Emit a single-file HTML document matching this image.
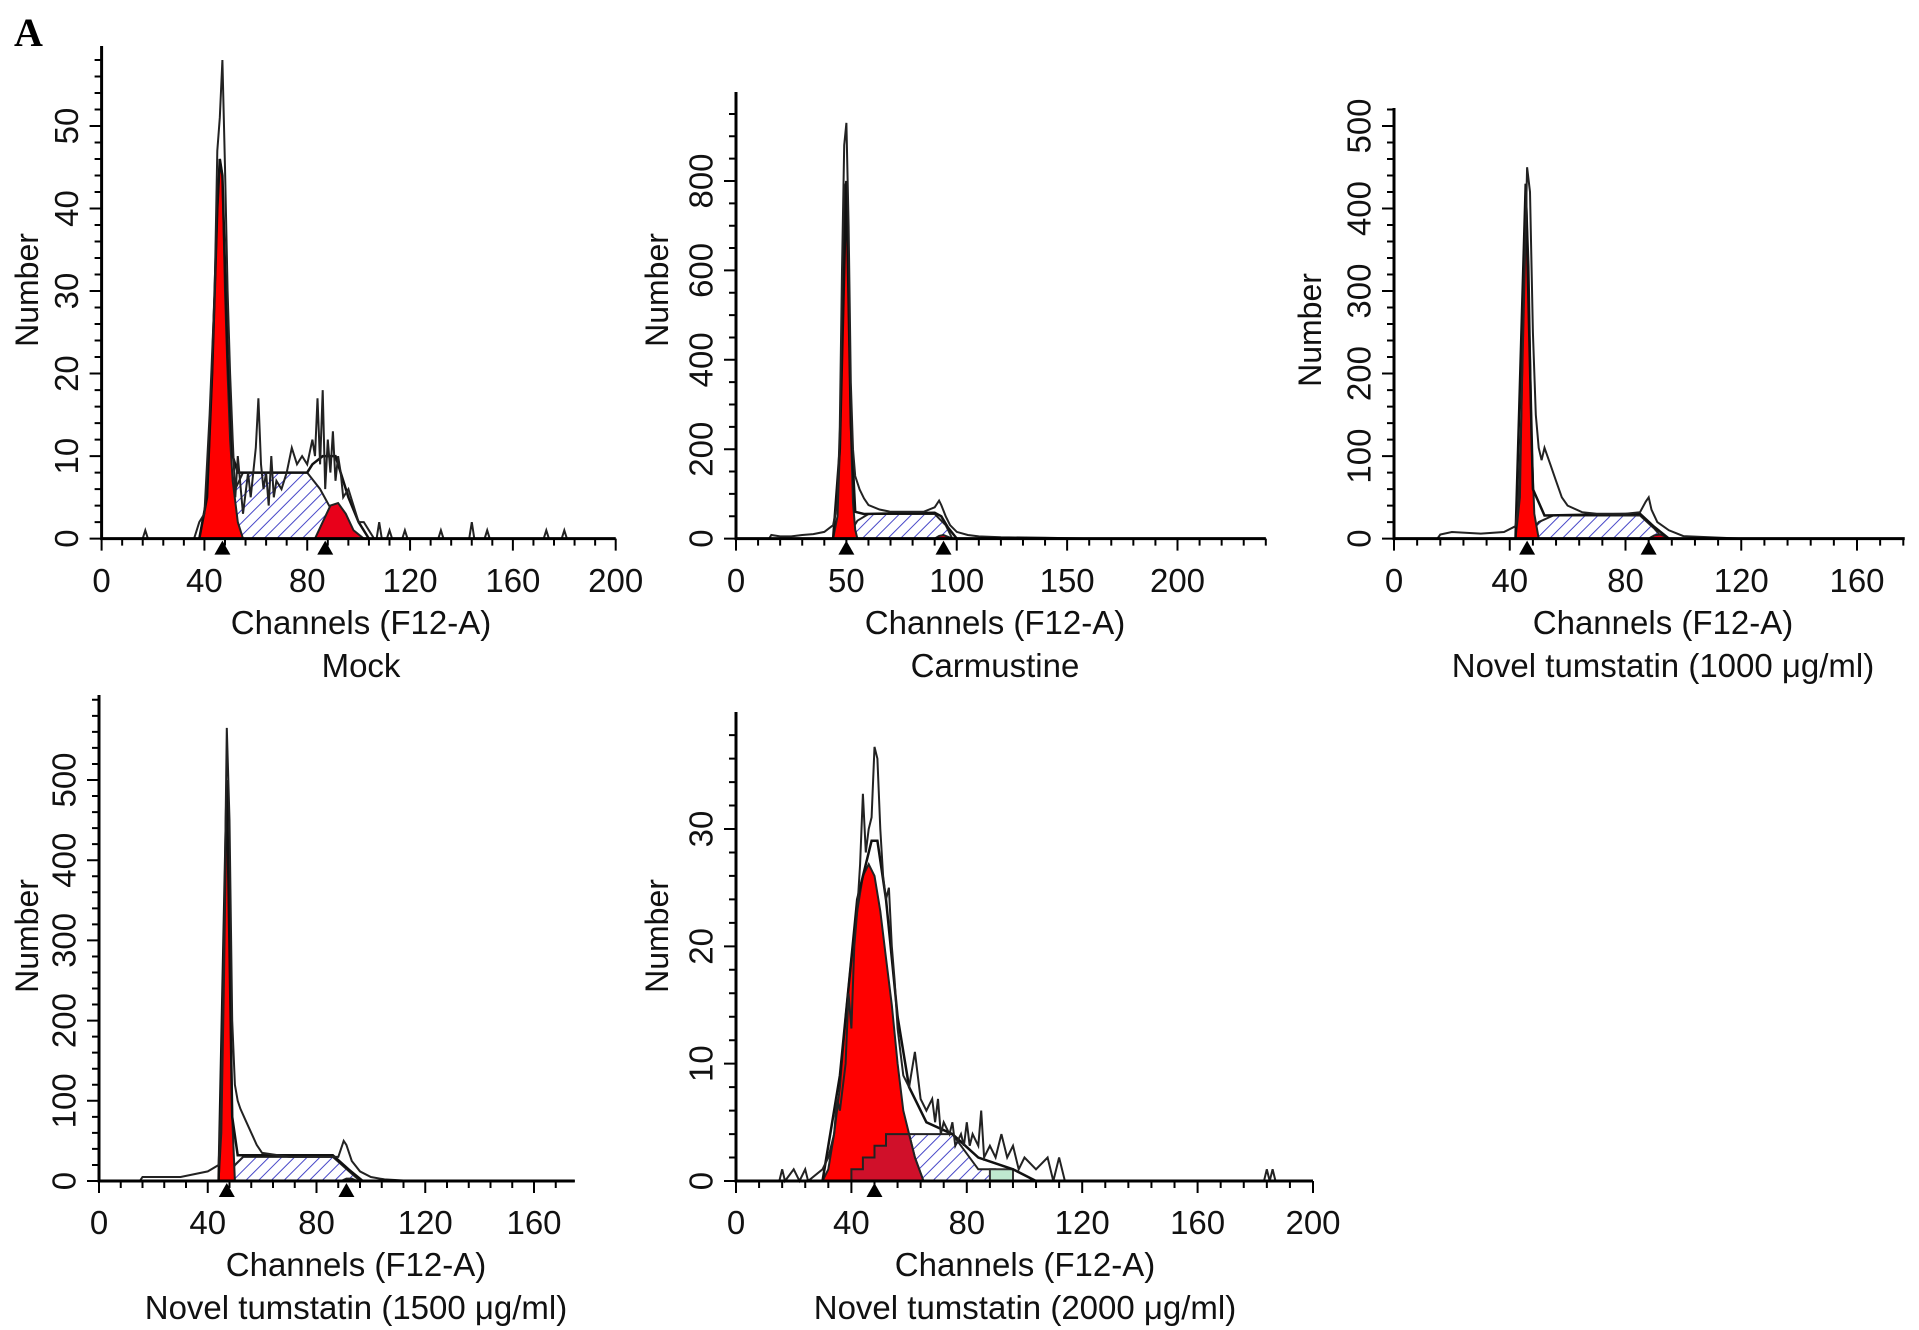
<!DOCTYPE html>
<html><head><meta charset="utf-8">
<style>
html,body{margin:0;padding:0;background:#fff;}
svg{display:block;font-family:"Liberation Sans",sans-serif;}
</style></head>
<body>
<svg id="fig" width="1919" height="1330" viewBox="0 0 1919 1330">
<defs>
<pattern id="hatch" patternUnits="userSpaceOnUse" width="9" height="9" patternTransform="rotate(45)">
<rect width="9" height="9" fill="#fff"/>
<line x1="0" y1="0" x2="0" y2="9" stroke="#4848c8" stroke-width="2"/>
</pattern>
</defs>
<text x="14" y="46" font-family="Liberation Serif,serif" font-weight="bold" font-size="40">A</text>
</svg>
<script>
// ===== Data (channel, count) =====
const p1Raw=[[0,0],[16,0],[17,1],[18,0],[36,0],[38,2],[40,3],[42,15],[44,30],[45,47],[46,51],[47,58],[48,45],[49,30],[50,20],[51,12],[52,5],[53,10],[55,3],[57,8],[58,5],[60,11],[61,17],[62,9],[63,6],[64,8],[65,4],[66,10],[67,5],[68,7],[70,6],[72,8],[74,11],[76,9],[78,10],[80,9],[82,12],[83,10],[84,17],[85,9],[86,18],[87,6],[88,12],[89,8],[90,13],[91,7],[92,10],[93,8],[94,5],[96,6],[98,4],[100,2],[102,2],[104,1],[106,0],[107,0],[108,2],[109,0],[111,0],[112,1],[113,0],[117,0],[118,1],[119,0],[131,0],[132,1],[133,0],[143,0],[144,2],[145,0],[149,0],[150,1],[151,0],[172,0],[173,1],[174,0],[179,0],[180,1],[181,0],[200,0]];
const p1G1=[[38,0],[41,5],[43,20],[45,40],[46,46],[47,44],[48,30],[49,20],[50,12],[51,7],[53,2],[55,0]];
const p1S=[[50,0],[52,6],[55,8],[80,8],[85,6],[92,2],[95,0]];
const p1G2=[[83,0],[86,2],[89,4],[92,4.3],[95,3],[98,1],[102,0]];
const p1Fit=[[38,0],[41,5],[43,20],[45,40],[46,46],[47,44],[49,22],[51,10],[53,8],[55,8],[80,8],[82,9],[86,10],[91,10],[96,5],[100,2],[104,0]];
const p1Marks=[47,87];

const p2Raw=[[0,0],[15,0],[16,8],[20,5],[25,5],[30,8],[35,10],[40,15],[44,30],[46,80],[47,250],[48,600],[49,880],[50,930],[51,700],[52,350],[53,200],[54,140],[56,110],[58,90],[60,75],[65,65],[70,60],[75,60],[80,60],[85,60],[90,70],[92,85],[93,75],[95,50],[97,30],[100,15],[105,8],[110,5],[120,3],[140,2],[160,0],[240,0]];
const p2G1=[[44,0],[46,50],[47,200],[48,500],[49,780],[50,800],[51,550],[52,250],[53,80],[54,20],[55,0]];
const p2S=[[50,0],[55,40],[60,55],[90,55],[95,30],[98,0]];
const p2G2=[[90,0],[92,6],[94,8],[96,4],[98,0]];
const p2Fit=[[44,0],[47,200],[50,800],[52,260],[54,60],[58,55],[90,58],[93,50],[96,25],[100,0]];
const p2Marks=[50,94];

const p3Raw=[[0,0],[15,0],[16,5],[20,8],[30,6],[38,8],[42,15],[43,40],[44,150],[45,300],[46,450],[47,420],[48,250],[49,150],[50,110],[51,95],[52,110],[54,90],[56,70],[58,50],[60,40],[65,32],[70,30],[80,30],[85,32],[87,45],[88,50],[89,35],[91,20],[95,10],[100,3],[120,0],[176,0]];
const p3G1=[[42,0],[43.5,50],[44.5,250],[45.5,430],[46.5,330],[47.5,120],[48.5,30],[50,0]];
const p3S=[[46,0],[50,20],[55,28],[85,28],[90,12],[93,0]];
const p3G2=[[88,0],[90,4],[92,5],[94,2],[95,0]];
const p3Fit=[[42,0],[45.5,430],[48,60],[52,28],[85,30],[90,14],[95,0]];
const p3Marks=[46,88];

const p4Raw=[[0,0],[15,0],[16,5],[30,5],[40,12],[44,20],[45,100],[46,300],[47,565],[48,450],[49,200],[50,120],[51,100],[52,90],[54,75],[56,60],[58,45],[60,35],[70,30],[80,30],[88,30],[90,50],[91,45],[93,25],[96,12],[100,5],[105,2],[115,0],[175,0]];
const p4G1=[[44,0],[45,60],[46,260],[47,500],[48,300],[49,80],[50,0]];
const p4S=[[47,0],[50,20],[53,30],[86,30],[92,12],[96,0]];
const p4G2=[[89,0],[91,3],[93,3],[95,0]];
const p4Fit=[[44,0],[47,500],[49,80],[51,32],[86,32],[92,14],[97,0]];
const p4Marks=[47,91];

const p5Raw=[[0,0],[15,0],[16,1],[17,0],[20,1],[22,0],[24,1],[25,0],[30,1],[32,2],[34,4],[35,7],[36,6],[38,10],[39,16],[40,13],[41,20],[42,23],[43,27],[44,33],[45,28],[46,30],[47,31],[48,37],[49,36],[50,30],[51,26],[52,24],[53,25],[54,20],[55,17],[56,13],[57,11],[58,9],[60,8],[62,11],[64,7],[66,6],[68,7],[69,5],[70,7],[71,4],[72,5],[74,4],[75,5],[76,3],[78,4],[79,3],[80,5],[81,3],[82,4],[84,3],[85,6],[86,2],[88,3],[90,2],[92,4],[94,2],[96,3],[98,1],[100,2],[104,1],[108,2],[110,0],[112,2],[114,0],[183,0],[184,1],[185,0],[186,1],[187,0],[200,0]];
const p5G1=[[30,0],[32,1],[34,4],[36,8],[38,14],[40,19],[42,23],[44,26],[46,27],[48,26],[50,23],[52,19],[54,15],[56,10],[58,6],[60,4],[62,2],[65,0]];
const p5G1b=[[40,0],[40,1],[44,1],[44,2],[48,2],[48,3],[52,3],[52,4],[60,4],[62,2],[65,0]];
const p5S=[[60,0],[60,4],[75,4],[78,3],[84,1],[90,1],[92,0]];
const p5G2=[[88,0],[88,1],[96,1],[96,0]];
const p5Fit=[[30,0],[36,9],[42,24],[47,29],[49,29],[52,24],[56,14],[60,8],[66,5],[75,4],[84,2],[96,1],[104,0]];
const p5Marks=[48];

// ===== Layout =====
const panels=[
 {id:'mock',raw:p1Raw,g1:p1G1,s:p1S,g2:p1G2,fit:p1Fit,marks:p1Marks,x0:101.6,x1:615.7,xmax:200,y0:538.6,yv:126,yvv:50,yTop:46,xT:[0,40,80,120,160,200],xm:8,yT:[0,10,20,30,40,50],ym:2,cx:361,title:'Mock',ylx:27,yly:290,lbY:580,chY:622,tY:665},
 {id:'carmustine',raw:p2Raw,g1:p2G1,s:p2S,g2:p2G2,fit:p2Fit,marks:p2Marks,x0:736,x1:1177.5,xmax:240,y0:538.6,yv:181,yvv:800,yTop:92,xT:[0,50,100,150,200],xm:10,yT:[0,200,400,600,800],ym:50,cx:995,title:'Carmustine',ylx:657,yly:290,lbY:580,chY:622,tY:665,xspan:200},
 {id:'tumstatin-1000',raw:p3Raw,g1:p3G1,s:p3S,g2:p3G2,fit:p3Fit,marks:p3Marks,x0:1394,x1:1857,xmax:176.5,y0:538.6,yv:126,yvv:500,yTop:108,xT:[0,40,80,120,160],xm:8,yT:[0,100,200,300,400,500],ym:20,cx:1663,title:'Novel tumstatin (1000 \u03bcg/ml)',ylx:1310,yly:330,lbY:580,chY:622,tY:665,xspan:160},
 {id:'tumstatin-1500',raw:p4Raw,g1:p4G1,s:p4S,g2:p4G2,fit:p4Fit,marks:p4Marks,x0:99,x1:534,xmax:175,y0:1181,yv:780,yvv:500,yTop:695,xT:[0,40,80,120,160],xm:8,yT:[0,100,200,300,400,500],ym:20,cx:356,title:'Novel tumstatin (1500 \u03bcg/ml)',ylx:27,yly:936,lbY:1222,chY:1264,tY:1307,xspan:160},
 {id:'tumstatin-2000',raw:p5Raw,g1:p5G1,g1b:p5G1b,s:p5S,g2:p5G2,fit:p5Fit,marks:p5Marks,x0:736,x1:1313,xmax:200,y0:1181,yv:829,yvv:30,yTop:712,xT:[0,40,80,120,160,200],xm:8,yT:[0,10,20,30],ym:2,cx:1025,title:'Novel tumstatin (2000 \u03bcg/ml)',ylx:657,yly:936,lbY:1222,chY:1264,tY:1307,green:true}
];
const NS='http://www.w3.org/2000/svg';
const svg=document.getElementById('fig');
function mk(tag,attrs,parent){const e=document.createElementNS(NS,tag);for(const k in attrs)e.setAttribute(k,attrs[k]);parent.appendChild(e);return e;}
panels.forEach(p=>{
 const span=p.xspan||p.xT[p.xT.length-1];
 const sx=v=>p.x0+(v)*(p.x1-p.x0)/span;
 const sy=v=>p.y0-v*(p.y0-p.yv)/p.yvv;
 const g=mk('g',{},svg);
 
 
 const pts=a=>a.map(d=>sx(d[0]).toFixed(1)+','+sy(d[1]).toFixed(1)).join(' ');
 const poly=(a,fill,name,stroke)=>{const e=mk('polygon',{points:pts(a),fill:fill,stroke:stroke||'#222','stroke-width':2},g);
  
  };
 poly(p.s,'url(#hatch)','s-phase-area');
 if(p.green){poly(p.g2,'#bfe8cf','g2-area','#333');}
 else poly(p.g2,'#e8001a','g2-area');
 poly(p.g1,'#ff0000','g1-area');
 if(p.g1b) poly(p.g1b,'#d0102a','g1-overlap-area');
 const fit=mk('polyline',{points:pts(p.fit),fill:'none',stroke:'#111','stroke-width':2.5},g);
 
 
 const raw=mk('polyline',{points:pts(p.raw),fill:'none',stroke:'#222','stroke-width':2},g);
 
 
 const ax=mk('path',{d:`M${p.x0},${p.yTop}V${p.y0}H${sx(p.xmax)}`,stroke:'#000','stroke-width':3,fill:'none'},g);
 
 
 let d='';
 for(let v=0;v<=p.xmax+0.01;v+=p.xm){const major=p.xT.includes(v);d+=`M${sx(v)},${p.y0}v${major?12:7}`;}
 const ymax=(p.y0-p.yTop)/((p.y0-p.yv)/p.yvv);
 for(let v=0;v<=ymax;v+=p.ym){const major=p.yT.includes(v);d+=`M${p.x0},${sy(v)}h${major?-12:-7}`;}
 const tk=mk('path',{d:d,stroke:'#000','stroke-width':2,fill:'none'},g);
 
 
 p.xT.forEach(v=>{const t=mk('text',{x:sx(v),y:p.lbY+12,'font-size':33,'text-anchor':'middle',fill:'#111'},g);t.textContent=v;
  
  });
 p.yT.forEach(v=>{const x=p.x0-35,y=sy(v);const t=mk('text',{x:x,y:y,'font-size':33,'text-anchor':'middle','dominant-baseline':'central',transform:`rotate(-90 ${x} ${y})`,fill:'#111'},g);t.textContent=v;
  
  });
 p.marks.forEach(v=>{const m=mk('polygon',{points:`${sx(v)-8},${p.y0+16} ${sx(v)+8},${p.y0+16} ${sx(v)},${p.y0+2}`,fill:'#000'},g);
  
  });
 const yl=mk('text',{x:p.ylx,y:p.yly,'font-size':32,'text-anchor':'middle','dominant-baseline':'central',transform:`rotate(-90 ${p.ylx} ${p.yly})`,fill:'#111'},g);yl.textContent='Number';
 
 
 const xl=mk('text',{x:p.cx,y:p.chY+12,'font-size':33,'text-anchor':'middle',fill:'#111'},g);xl.textContent='Channels (F12-A)';
 
 
 const tt=mk('text',{x:p.cx,y:p.tY+12,'font-size':33,'text-anchor':'middle',fill:'#111'},g);tt.textContent=p.title;
 
 
});
</script>
</body></html>
